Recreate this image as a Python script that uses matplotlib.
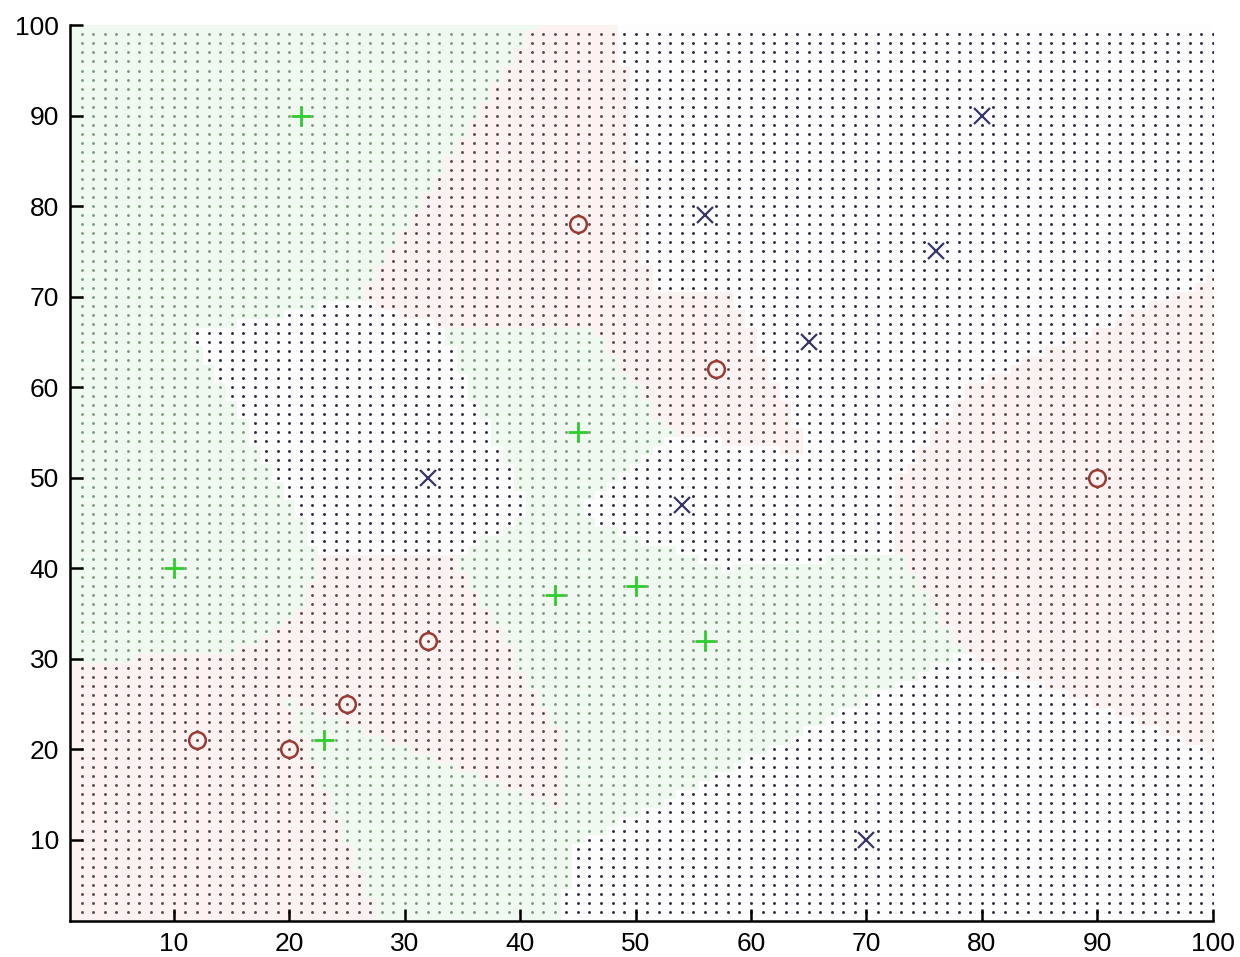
import numpy as np
import matplotlib.pyplot as plt
from matplotlib.colors import ListedColormap

# обучающие точки по трём классам
green_x = [21, 45, 10, 43, 50, 56, 23]
green_y = [90, 55, 40, 37, 38, 32, 21]
red_x = [45, 57, 90, 32, 25, 12, 20]
red_y = [78, 62, 50, 32, 25, 21, 20]
blue_x = [80, 56, 76, 65, 32, 54, 70]
blue_y = [90, 79, 75, 65, 50, 47, 10]

xticks = [10, 20, 30, 40, 50, 60, 70, 80, 90, 100]
yticks = [10, 20, 30, 40, 50, 60, 70, 80, 90, 100]

# обучающая выборка: 0 - green, 1 - red, 2 - blue
train_x = np.array(green_x + red_x + blue_x, dtype=float)
train_y = np.array(green_y + red_y + blue_y, dtype=float)
labels = np.array([0] * len(green_x) + [1] * len(red_x) + [2] * len(blue_x))

# сетка и классификация 1-NN
gx = np.arange(2, 101)
gy = np.arange(2, 100)
GX, GY = np.meshgrid(gx, gy)
d = (GX[..., None] - train_x) ** 2 + (GY[..., None] - train_y) ** 2
cls = labels[np.argmin(d, axis=-1)]

fig = plt.figure(figsize=(12.4, 9.57), dpi=100)
ax = fig.add_axes([0.0565, 0.0376, 0.9215, 0.936])

# бледная заливка областей
tint = ListedColormap(['#f0f9f0', '#fcf2f2', '#fdfdfe'])
fx = np.arange(0.5, 101.5, 1.0)
fy = np.arange(0.5, 101.5, 1.0)
FX, FY = np.meshgrid(np.arange(1, 101), np.arange(1, 101))
fd = (FX[..., None] - train_x) ** 2 + (FY[..., None] - train_y) ** 2
fcls = labels[np.argmin(fd, axis=-1)]
ax.pcolormesh(fx, fy, fcls, cmap=tint, vmin=-0.5, vmax=2.5, shading='flat', zorder=0)

# точки сетки
dot_colors = ['#829a82', '#5e4848', '#2c2c40']
for k in range(3):
    m = cls == k
    ax.plot(GX[m], GY[m], linestyle='none', marker='o', ms=2.1,
            mew=0, color=dot_colors[k], zorder=1)

# обучающие точки
ax.plot(green_x, green_y, linestyle='none', marker='+', ms=15, mew=2,
        color='#2ecc2e', zorder=3)
ax.plot(red_x, red_y, linestyle='none', marker='o', ms=12, mew=1.8,
        mfc='none', color='#9a3a32', zorder=3)
ax.plot(blue_x, blue_y, linestyle='none', marker='x', ms=11, mew=1.6,
        color='#363668', zorder=3)

# настройка осей
ax.set_xlim(1, 100)
ax.set_ylim(1, 100)
ax.set_xticks(xticks)
ax.set_yticks(yticks)
ax.set_xticklabels([str(t) for t in xticks], family='Liberation Sans', fontsize=19)
ax.set_yticklabels([str(t) for t in yticks], family='Liberation Sans', fontsize=19)
ax.spines['top'].set_visible(False)
ax.spines['right'].set_visible(False)
for s in ['left', 'bottom']:
    ax.spines[s].set_linewidth(1.8)
ax.tick_params(direction='in', length=9, width=1.8, pad=8)

fig.savefig('out.png', dpi=100)
